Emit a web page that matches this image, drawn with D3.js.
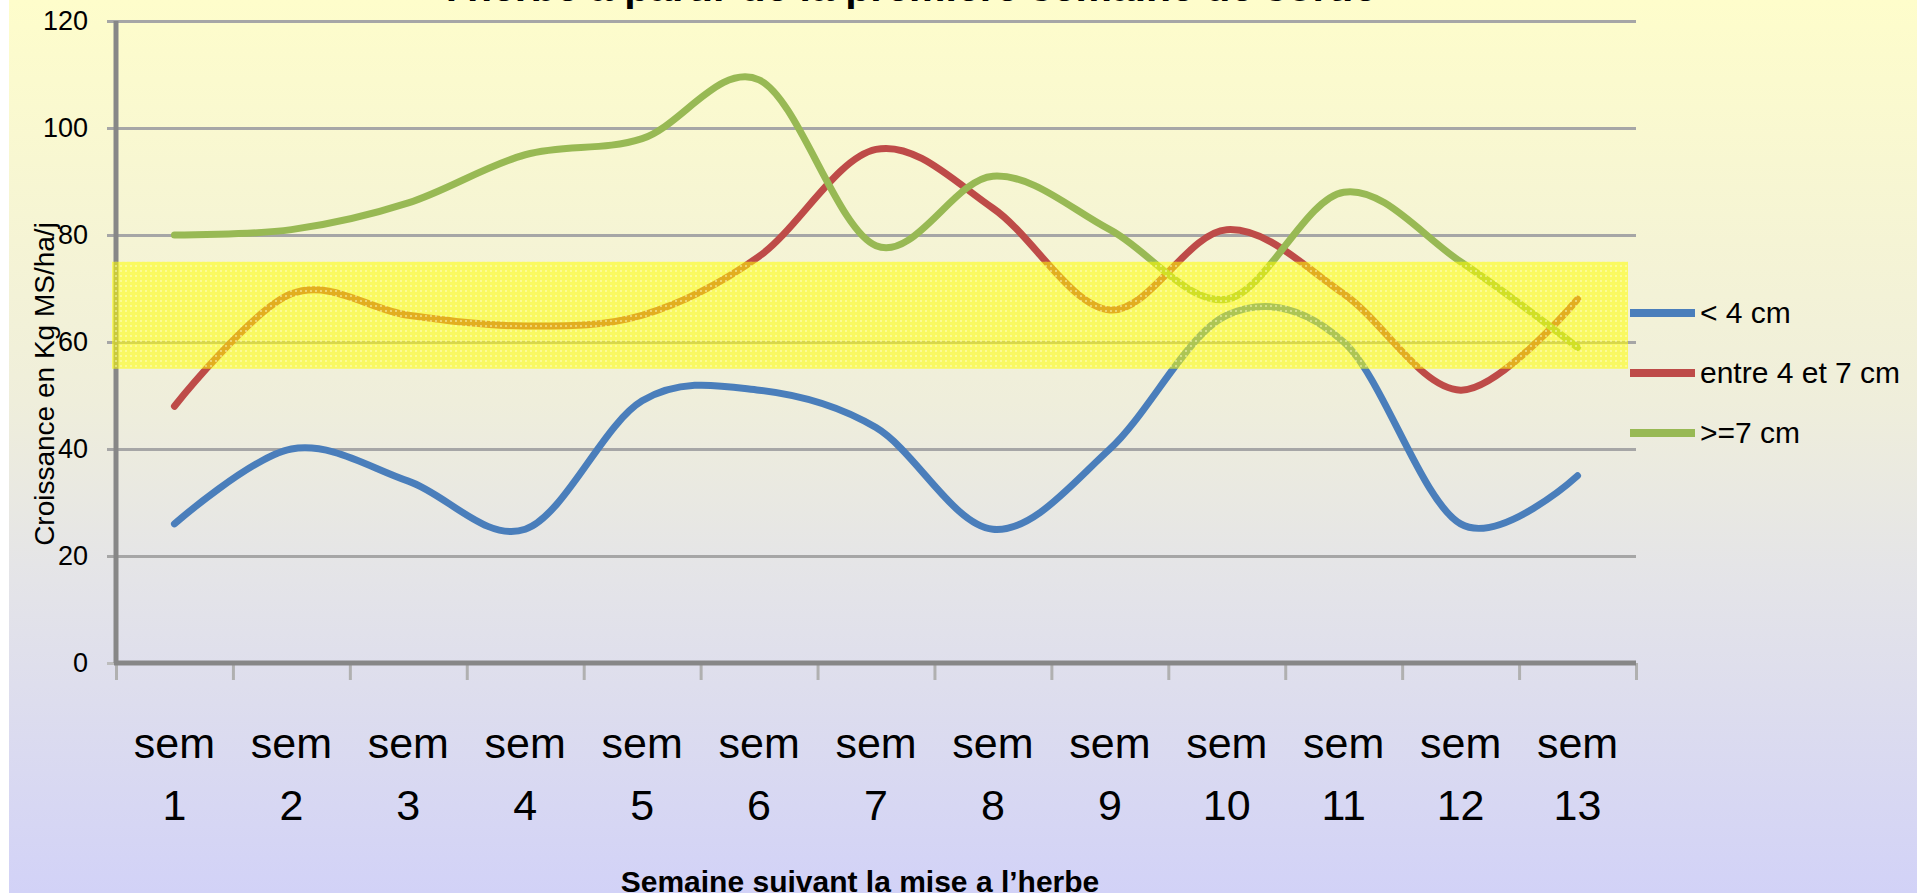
<!DOCTYPE html>
<html>
<head>
<meta charset="utf-8">
<script src="https://cdn.jsdelivr.net/npm/d3@7"></script>
<style>
  body { margin: 0; background: #ffffff; }
  #chart { width: 1917px; height: 893px; overflow: hidden; }
  text { font-family: "Liberation Sans", Arial, sans-serif; fill: #000; }
</style>
</head>
<body>
<div id="chart"></div>
<script>
// semaines
const categories = ["sem 1", "sem 2", "sem 3", "sem 4", "sem 5", "sem 6", "sem 7",
  "sem 8", "sem 9", "sem 10", "sem 11", "sem 12", "sem 13"];

// croissance (kg MS/ha/j) par hauteur d'herbe
const moinsDe4 = [26, 40, 34, 25, 49, 51, 44, 25, 40, 65, 60, 26, 35];
const entre4et7 = [48, 69, 65, 63, 65, 76, 96, 85, 66, 81, 69, 51, 68];
const plusDe7 = [80, 81, 86, 95, 98, 109, 78, 91, 81, 68, 88, 75, 59];

const seriesNames = ["< 4 cm", "entre 4 et 7 cm", ">=7 cm"];
const yTicks = [0, 20, 40, 60, 80, 100, 120];
const bande = [55, 75]; // zone jaune

const colors = ["#4a7ebb", "#be4b48", "#98b954"];

const width = 1917;
const height = 893;
const margin = { top: 21, right: 281, bottom: 230, left: 116 };
const plotW = width - margin.left - margin.right;
const plotBottom = height - margin.bottom;

const svg = d3
  .select("#chart")
  .append("svg")
  .attr("width", width)
  .attr("height", height);

const defs = svg.append("defs");
const grad = defs
  .append("linearGradient")
  .attr("id", "bg")
  .attr("x1", 0).attr("y1", 0).attr("x2", 0).attr("y2", 1);
grad.append("stop").attr("offset", "0%").attr("stop-color", "#fefdcb");
grad.append("stop").attr("offset", "45%").attr("stop-color", "#efeedb");
grad.append("stop").attr("offset", "65%").attr("stop-color", "#e4e4e8");
grad.append("stop").attr("offset", "100%").attr("stop-color", "#d2d2f7");

const pat = defs
  .append("pattern")
  .attr("id", "dots")
  .attr("width", 5)
  .attr("height", 5)
  .attr("patternUnits", "userSpaceOnUse");
pat.append("rect").attr("width", 5).attr("height", 5).attr("fill", "rgba(255,255,0,0.55)");
pat.append("rect").attr("width", 2).attr("height", 2).attr("fill", "rgba(255,255,210,0.45)");

// fond
svg
  .append("rect")
  .attr("x", 9)
  .attr("y", 0)
  .attr("width", width - 9)
  .attr("height", height)
  .attr("fill", "url(#bg)");

const x = d3
  .scaleBand()
  .domain(categories)
  .range([margin.left, margin.left + plotW]);

const xEdge = d3
  .scaleLinear()
  .domain([0, categories.length])
  .range([margin.left, margin.left + plotW]);

const y = d3
  .scaleLinear()
  .domain([0, 120])
  .range([plotBottom, margin.top]);

// titre (coupé en haut)
svg
  .append("text")
  .attr("x", 911)
  .attr("y", 1)
  .attr("text-anchor", "middle")
  .style("font-size", "41px")
  .style("font-weight", "bold")
  .text("l'herbe à partir de la première semaine de sortie");

// grille
const grid = svg
  .append("g")
  .attr("transform", `translate(${margin.left - 9},0)`)
  .call(d3.axisLeft(y).tickValues(yTicks.slice(1)).tickSize(-(plotW + 9)).tickFormat(""));
grid.select(".domain").remove();
grid.selectAll("line").attr("stroke", "#a6a6a6").attr("stroke-width", 3);

// ticks de l'axe y vers la gauche
const yTickG = svg
  .append("g")
  .attr("transform", `translate(${margin.left},0)`)
  .call(d3.axisLeft(y).tickValues([0]).tickSize(9).tickFormat(""));
yTickG.select(".domain").remove();
yTickG.selectAll("line").attr("stroke", "#bdbdbd").attr("stroke-width", 3);

// étiquettes y
const yLab = svg
  .append("g")
  .attr("transform", `translate(${margin.left},0)`)
  .call(d3.axisLeft(y).tickValues(yTicks).tickSize(0).tickPadding(28));
yLab.select(".domain").remove();
yLab
  .selectAll("text")
  .style("font-family", "Liberation Sans, Arial, sans-serif")
  .style("font-size", "27px")
  .attr("fill", "#000");

// ticks de l'axe x
const xTickG = svg
  .append("g")
  .attr("transform", `translate(0,${plotBottom})`)
  .call(d3.axisBottom(xEdge).tickValues(d3.range(categories.length + 1)).tickSize(17).tickFormat(""));
xTickG.select(".domain").remove();
xTickG.selectAll("line").attr("stroke", "#b0b0b0").attr("stroke-width", 3);

// étiquettes x sur deux lignes
const xLab = svg
  .append("g")
  .attr("transform", `translate(0,${plotBottom})`)
  .call(d3.axisBottom(x).tickSize(0).tickFormat(""));
xLab.select(".domain").remove();
xLab
  .selectAll(".tick")
  .append("text")
  .attr("text-anchor", "middle")
  .style("font-size", "43px")
  .each(function (d) {
    const parts = d.split(" ");
    const t = d3.select(this);
    t.append("tspan").attr("x", 0).attr("y", 95).text(parts[0]);
    t.append("tspan").attr("x", 0).attr("y", 157).text(parts[1]);
  });

// axes
svg
  .append("line")
  .attr("x1", margin.left)
  .attr("x2", margin.left)
  .attr("y1", margin.top)
  .attr("y2", plotBottom)
  .attr("stroke", "#878787")
  .attr("stroke-width", 5);
svg
  .append("line")
  .attr("x1", margin.left - 2)
  .attr("x2", margin.left + plotW)
  .attr("y1", plotBottom)
  .attr("y2", plotBottom)
  .attr("stroke", "#878787")
  .attr("stroke-width", 5);

// courbes
const allSeries = [moinsDe4, entre4et7, plusDe7];
const line = d3
  .line()
  .x((d, i) => x(categories[i]) + x.bandwidth() / 2)
  .y((d) => y(d))
  .curve(d3.curveCardinal.tension(0));

svg
  .selectAll(".serie")
  .data(allSeries)
  .enter()
  .append("path")
  .attr("class", "serie")
  .attr("d", (d) => line(d))
  .attr("fill", "none")
  .attr("stroke", (d, i) => colors[i])
  .attr("stroke-width", 7)
  .attr("stroke-linecap", "round");

// zone jaune par-dessus
svg
  .append("rect")
  .attr("x", margin.left - 4)
  .attr("y", y(bande[1]))
  .attr("width", plotW - 4)
  .attr("height", y(bande[0]) - y(bande[1]))
  .attr("fill", "url(#dots)");

// titres des axes
svg
  .append("text")
  .attr("text-anchor", "middle")
  .attr("transform", "translate(54,384) rotate(-90)")
  .style("font-size", "28px")
  .text("Croissance en Kg MS/ha/j");

svg
  .append("text")
  .attr("text-anchor", "middle")
  .attr("x", 860)
  .attr("y", 892)
  .style("font-size", "30px")
  .style("font-weight", "bold")
  .text("Semaine suivant la mise a l’herbe");

// légende
const legend = svg
  .append("g")
  .attr("transform", "translate(1630,313)");
const item = legend
  .selectAll("g")
  .data(seriesNames)
  .enter()
  .append("g")
  .attr("transform", (d, i) => `translate(0,${i * 60})`);
item
  .append("line")
  .attr("x1", 0)
  .attr("x2", 65)
  .attr("stroke", (d, i) => colors[i])
  .attr("stroke-width", 8);
item
  .append("text")
  .attr("x", 70)
  .attr("y", 10)
  .style("font-size", "30px")
  .text((d) => d);
</script>
</body>
</html>
